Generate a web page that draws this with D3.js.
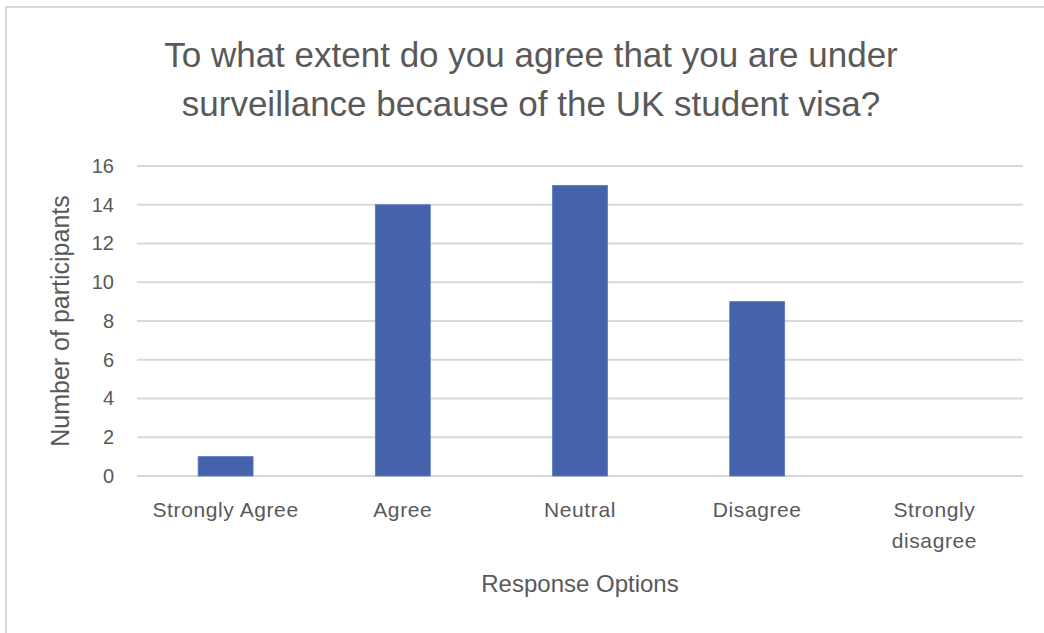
<!DOCTYPE html>
<html>
<head>
<meta charset="utf-8">
<script src="https://cdn.jsdelivr.net/npm/d3@7"></script>
<style>
  html, body { margin: 0; padding: 0; background: #ffffff; }
  svg { display: block; }
  text { font-family: "Liberation Sans", Arial, sans-serif; fill: #595959; }
</style>
</head>
<body>
<svg id="chart" width="1044" height="633"></svg>
<script>
// Survey responses
const categories = ["Strongly Agree", "Agree", "Neutral", "Disagree", "Strongly disagree"];
const participants = [1, 14, 15, 9, 0];
const yTicks = [0, 2, 4, 6, 8, 10, 12, 14, 16];
const titleLines = ["To what extent do you agree that you are under", "surveillance because of the UK student visa?"];
const xAxisTitle = "Response Options";
const yAxisTitle = "Number of participants";

const svg = d3.select("#chart");
const W = 1044, H = 633;
const plot = { left: 137, right: 1023, top: 166, bottom: 476 };

// Chart area border (top and left edges visible)
svg.append("rect")
  .attr("x", 6).attr("y", 7)
  .attr("width", W + 10).attr("height", H + 10)
  .attr("fill", "#ffffff")
  .attr("stroke", "#d9d9d9").attr("stroke-width", 2);

const x = d3.scaleBand().domain(categories).range([plot.left, plot.right]).padding(0);
const y = d3.scaleLinear().domain([0, 16]).range([plot.bottom, plot.top]);

// Horizontal gridlines
svg.append("g").selectAll("line").data(yTicks).join("line")
  .attr("x1", plot.left).attr("x2", plot.right)
  .attr("y1", d => y(d)).attr("y2", d => y(d))
  .attr("stroke", "#d9d9d9").attr("stroke-width", 2);

// Y tick labels
const yAxis = d3.axisLeft(y).tickValues(yTicks).tickSize(0).tickPadding(0);
const gy = svg.append("g").attr("transform", `translate(114,0)`).call(yAxis);
gy.select(".domain").remove();
gy.selectAll("text")
  .attr("font-family", "Liberation Sans, Arial, sans-serif")
  .attr("font-size", 20).attr("fill", "#595959");

// Bars
const barW = x.bandwidth() * 0.31;
svg.append("g").selectAll("rect").data(categories).join("rect")
  .attr("x", d => x(d) + (x.bandwidth() - barW) / 2)
  .attr("width", barW)
  .attr("y", (d, i) => y(participants[i]))
  .attr("height", (d, i) => y(0) - y(participants[i]))
  .attr("fill", "#4463ab")
  .attr("stroke", "#5a78bd").attr("stroke-width", 0.8);

// X category labels (wrap two-word labels that start with "Strongly d")
const xl = svg.append("g").style("font-size", "21px").style("letter-spacing", "0.6px");
categories.forEach(c => {
  const cx = x(c) + x.bandwidth() / 2;
  const lines = c === "Strongly disagree" ? ["Strongly", "disagree"] : [c];
  const t = xl.append("text").attr("text-anchor", "middle");
  lines.forEach((ln, i) => {
    t.append("tspan").attr("x", cx).attr("y", 517 + i * 31).text(ln);
  });
});

// Axis titles
svg.append("text")
  .attr("x", (plot.left + plot.right) / 2).attr("y", 592)
  .attr("text-anchor", "middle").style("font-size", "24px")
  .text(xAxisTitle);

svg.append("text")
  .attr("transform", "translate(69,321) rotate(-90)")
  .attr("text-anchor", "middle").style("font-size", "25px")
  .text(yAxisTitle);

// Title
const title = svg.append("text").attr("text-anchor", "middle").style("font-size", "35px");
titleLines.forEach((ln, i) => {
  title.append("tspan").attr("x", 531).attr("y", 67 + i * 49).text(ln);
});
</script>
</body>
</html>
